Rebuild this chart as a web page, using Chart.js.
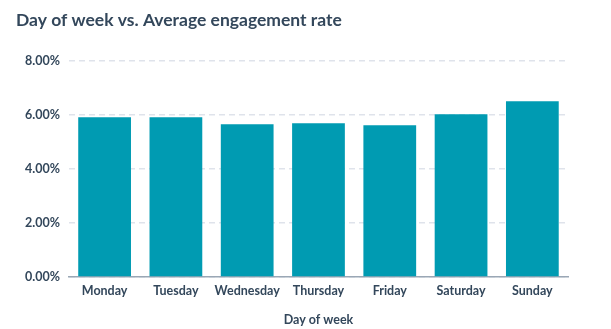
<!DOCTYPE html>
<html>
<head>
<meta charset="utf-8">
<script src="https://cdn.jsdelivr.net/npm/chart.js@4"></script>
<style>
  html, body { margin: 0; padding: 0; background: #fff; }
  #wrap { width: 611px; height: 329px; }
</style>
</head>
<body>
<div id="wrap"><canvas id="chart"></canvas></div>
<script>
const days = ['Monday', 'Tuesday', 'Wednesday', 'Thursday', 'Friday', 'Saturday', 'Sunday'];
const engagement = [5.92, 5.92, 5.66, 5.69, 5.62, 6.03, 6.51];
const yTicks = [0, 2, 4, 6, 8];

const textColor = '#33475b';
const font = 'Lato, "Open Sans", sans-serif';

new Chart(document.getElementById('chart'), {
    type: 'bar',
    data: {
        labels: days,
        datasets: [{
            label: 'Average engagement rate',
            data: engagement,
            backgroundColor: '#009bb2',
            borderWidth: 0,
            categoryPercentage: 1,
            barPercentage: 0.74
        }]
    },
    options: {
        responsive: true,
        maintainAspectRatio: false,
        animation: false,
        layout: { padding: { left: 16, right: 43, top: 6, bottom: 2 } },
        plugins: {
            legend: { display: false },
            tooltip: { enabled: false },
            title: {
                display: true,
                text: 'Day of week vs. Average engagement rate',
                align: 'start',
                color: textColor,
                font: { family: font, size: 17.5, weight: 'bold' },
                padding: { top: 4, bottom: 30 }
            }
        },
        scales: {
            x: {
                grid: { display: false, drawTicks: false },
                border: { display: true, color: '#9aa7b5', width: 1.5 },
                ticks: {
                    color: textColor,
                    font: { family: font, size: 12.5, weight: 'bold' },
                    padding: 6,
                    maxRotation: 0,
                    autoSkip: false
                },
                title: {
                    display: true,
                    text: 'Day of week',
                    color: textColor,
                    font: { family: font, size: 12.5, weight: 'bold' },
                    padding: { top: 8, bottom: 0 }
                }
            },
            y: {
                min: 0,
                max: 8,
                afterBuildTicks: axis => { axis.ticks = yTicks.map(v => ({ value: v })); },
                grid: {
                    color: '#dfe3eb',
                    lineWidth: 1.5,
                    drawTicks: false
                },
                border: { display: false, dash: [6, 4] },
                ticks: {
                    color: textColor,
                    font: { family: font, size: 12.5, weight: 'bold' },
                    padding: 9,
                    callback: v => v.toFixed(2) + '%'
                }
            }
        }
    }
});
</script>
</body>
</html>
